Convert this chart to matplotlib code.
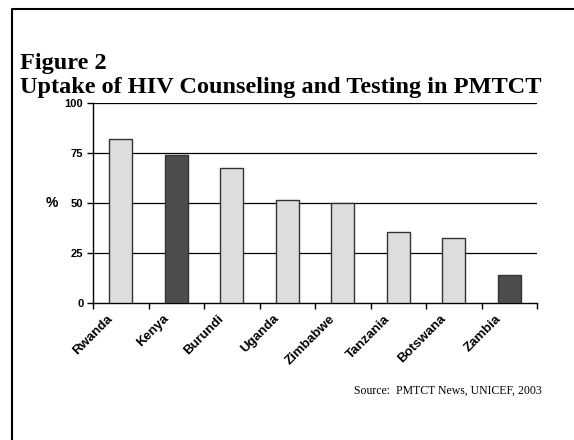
import numpy as np
import matplotlib.pyplot as plt
from matplotlib.lines import Line2D

countries = ['Rwanda', 'Kenya', 'Burundi', 'Uganda', 'Zimbabwe', 'Tanzania', 'Botswana', 'Zambia']
uptake = [82, 74, 67.5, 51.5, 50, 35.5, 32.5, 14]
highlight = [False, True, False, False, False, False, False, True]
yticks = [0, 25, 50, 75, 100]

W, H = 574, 440
fig = plt.figure(figsize=(W / 100, H / 100), dpi=100)

# frame (only top and left edges visible)
fig.add_artist(Line2D([12 / W, 12 / W, 1.0], [0.0, 1 - 9 / H, 1 - 9 / H],
                      transform=fig.transFigure, color='black', lw=1.5))

fig.text(20 / W, 1 - 69 / H, 'Figure 2', family='Liberation Serif', weight='bold',
         fontsize=17.5, ha='left', va='baseline')
fig.text(20 / W, 1 - 93 / H, 'Uptake of HIV Counseling and Testing in PMTCT',
         family='Liberation Serif', weight='bold', fontsize=17.5, ha='left', va='baseline')

ax = fig.add_axes([93 / W, 1 - 303 / H, 444 / W, 200.3 / H])
x = np.arange(len(countries)) + 0.5
colors = ['#4d4d4d' if h else '#dddddd' for h in highlight]
ax.bar(x, uptake, width=0.41, color=colors, edgecolor='#333333', linewidth=1.0, zorder=3)

for v in yticks[1:]:
    ax.axhline(v, color='black', lw=0.9, zorder=1)

ax.set_xlim(0, len(countries))
ax.set_ylim(0, 100)
ax.set_yticks(yticks)
ax.set_yticklabels([str(v) for v in yticks], family='Liberation Sans', weight='bold', fontsize=8)
ax.set_xticks(np.arange(len(countries) + 1))
ax.set_xticklabels([])
# rotated labels sit a little left of the bar centres
ax.set_xticks(x - 0.25, minor=True)
ax.set_xticklabels(countries, minor=True, rotation=45, ha='right', va='top',
                   rotation_mode='anchor', family='Liberation Sans', weight='bold',
                   fontsize=9.5)
ax.tick_params(axis='x', which='minor', length=0, pad=7)
ax.tick_params(axis='x', which='major', length=4, width=1, color='black')
ax.tick_params(axis='y', length=4, width=1, pad=3)

for s in ['top', 'right']:
    ax.spines[s].set_visible(False)
for s in ['left', 'bottom']:
    ax.spines[s].set_linewidth(1.0)

fig.text(52 / W, 1 - 203 / H, '%', family='Liberation Sans', weight='bold', fontsize=10,
         ha='center', va='center')

fig.text(542 / W, 1 - 391 / H, 'Source:  PMTCT News, UNICEF, 2003', family='Liberation Serif',
         fontsize=8.5, ha='right', va='center')

fig.savefig('out.png', dpi=100)
